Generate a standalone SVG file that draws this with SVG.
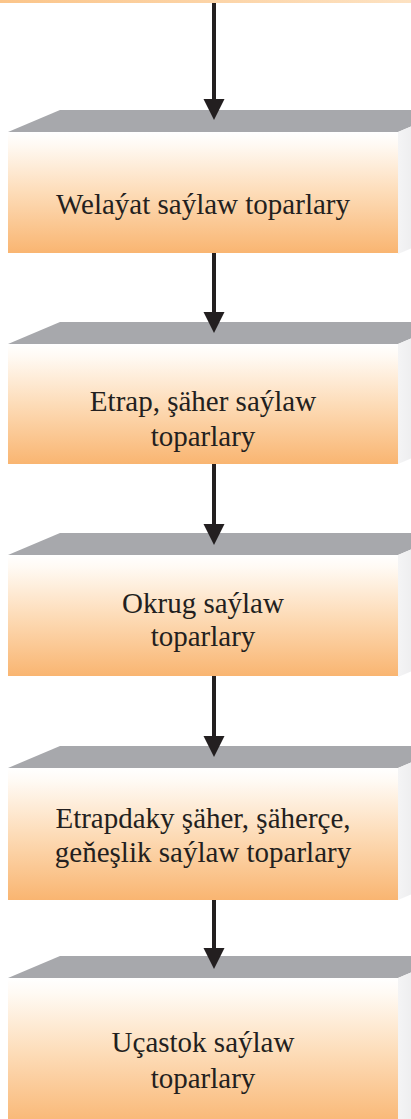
<svg xmlns="http://www.w3.org/2000/svg" width="411" height="1119" viewBox="0 0 411 1119">
<defs>
<linearGradient id="front" x1="0" y1="0" x2="0" y2="1">
<stop offset="0" stop-color="#ffffff"/>
<stop offset="0.1" stop-color="#fffaf4"/>
<stop offset="0.5" stop-color="#fddcb8"/>
<stop offset="1" stop-color="#f9b571"/>
</linearGradient>
<linearGradient id="side" x1="0" y1="0" x2="1" y2="0">
<stop offset="0" stop-color="#f4f4f5"/>
<stop offset="1" stop-color="#dcdde0"/>
</linearGradient>
<linearGradient id="strip" x1="0" y1="0" x2="1" y2="0">
<stop offset="0" stop-color="#fbc58a"/>
<stop offset="1" stop-color="#fde2c2"/>
</linearGradient>
</defs>
<style>
.top{fill:#a7a8ac}
.front{fill:url(#front)}
.side{fill:url(#side)}
.lbl{font-family:"Liberation Serif","Times New Roman",serif;font-size:29px;fill:#231f20;text-anchor:middle}
.conn line{stroke:#231f20;stroke-width:4}
.conn polygon{fill:#231f20}
</style>
<rect x="0" y="0" width="411" height="3" fill="url(#strip)"/>
<g id="box1">
<polygon class="top" points="8,132 60,110 450,110 398,132"/>
<polygon class="side" points="398,132 450,110 450,232 398,254"/>
<rect class="front" x="8" y="132" width="390" height="121"/>
<text class="lbl" x="203" y="214">Welaýat saýlaw toparlary</text>
</g>
<g id="box2">
<polygon class="top" points="8,344 60,322 450,322 398,344"/>
<polygon class="side" points="398,344 450,322 450,442 398,464"/>
<rect class="front" x="8" y="344" width="390" height="120"/>
<text class="lbl" x="203" y="411">Etrap, şäher saýlaw</text>
<text class="lbl" x="203" y="446">toparlary</text>
</g>
<g id="box3">
<polygon class="top" points="8,555 60,533 450,533 398,555"/>
<polygon class="side" points="398,555 450,533 450,655 398,677"/>
<rect class="front" x="8" y="555" width="390" height="121"/>
<text class="lbl" x="203" y="613">Okrug saýlaw</text>
<text class="lbl" x="203" y="646">toparlary</text>
</g>
<g id="box4">
<polygon class="top" points="8,768 60,746 450,746 398,768"/>
<polygon class="side" points="398,768 450,746 450,878 398,900"/>
<rect class="front" x="8" y="768" width="390" height="132"/>
<text class="lbl" x="203" y="828">Etrapdaky şäher, şäherçe,</text>
<text class="lbl" x="203" y="862">geňeşlik saýlaw toparlary</text>
</g>
<g id="box5">
<polygon class="top" points="8,978 60,956 450,956 398,978"/>
<polygon class="side" points="398,978 450,956 450,1110 398,1132"/>
<rect class="front" x="8" y="978" width="390" height="150"/>
<text class="lbl" x="203" y="1052">Uçastok saýlaw</text>
<text class="lbl" x="203" y="1088">toparlary</text>
</g>
<g id="connectors" class="conn">
<line x1="214" y1="3" x2="214" y2="101"/>
<polygon points="203.5,99 224.5,99 214,120"/>
<line x1="214" y1="253" x2="214" y2="314"/>
<polygon points="203.5,312 224.5,312 214,333"/>
<line x1="214" y1="464" x2="214" y2="526"/>
<polygon points="203.5,524 224.5,524 214,545"/>
<line x1="214" y1="676" x2="214" y2="738"/>
<polygon points="203.5,736 224.5,736 214,757"/>
<line x1="214" y1="900" x2="214" y2="950"/>
<polygon points="203.5,948 224.5,948 214,969"/>
</g>
</svg>
